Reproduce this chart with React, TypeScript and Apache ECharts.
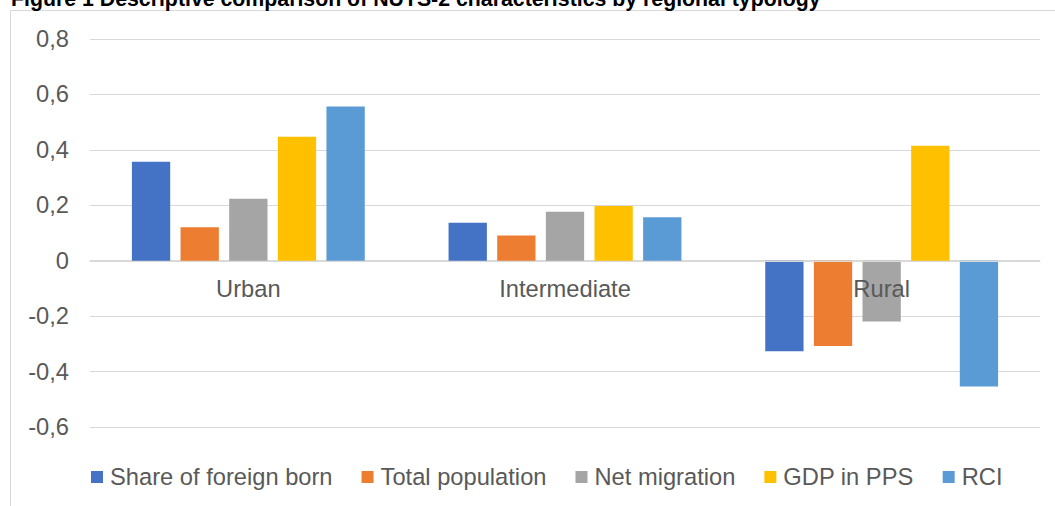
import React, { useEffect, useRef } from "react";
import * as echarts from "echarts";

const categories = ["Urban", "Intermediate", "Rural"];
const seriesNames = ["Share of foreign born", "Total population", "Net migration", "GDP in PPS", "RCI"];
const shareForeignBorn = [0.357, 0.137, -0.327];
const totalPopulation = [0.121, 0.091, -0.308];
const netMigration = [0.224, 0.177, -0.219];
const gdpInPPS = [0.447, 0.197, 0.415];
const rci = [0.556, 0.157, -0.454];
const colors = ["#4472C4", "#ED7D31", "#A5A5A5", "#FFC000", "#5B9BD5"];
const titleText = "Figure 1 Descriptive comparison of NUTS-2 characteristics by regional typology";

const FONT = "'Liberation Sans', Arial, sans-serif";
const FS = 23.7;

export default function App() {
  const ref = useRef<HTMLDivElement>(null);
  useEffect(() => {
    if (!ref.current) return;
    const chart = echarts.init(ref.current, null, { renderer: "svg" });
    const values = [shareForeignBorn, totalPopulation, netMigration, gdpInPPS, rci];
    chart.setOption({
      animation: false,
      backgroundColor: "#ffffff",
      textStyle: { fontFamily: FONT },
      graphic: [
        {
          type: "rect",
          shape: { x: 10.5, y: 10.5, width: 1100, height: 600 },
          style: { fill: "none", stroke: "#d9d9d9", lineWidth: 1 },
          silent: true,
        },
        {
          type: "text",
          x: 11,
          y: -1,
          style: {
            text: titleText,
            fontFamily: FONT,
            fontSize: 21.3,
            fontWeight: "bold",
            fill: "#000000",
            verticalAlign: "middle",
            align: "left",
          },
          silent: true,
        },
      ],
      grid: { left: 90, right: 15, top: 39, bottom: 79, containLabel: false },
      legend: {
        data: seriesNames,
        left: 91,
        top: 465,
        padding: 0,
        itemWidth: 12,
        itemHeight: 12,
        itemGap: 29,
        icon: "rect",
        textStyle: { fontFamily: FONT, fontSize: FS, color: "#595959", padding: [0, 0, 0, 2] },
      },
      xAxis: {
        type: "category",
        data: categories,
        z: 5,
        position: "bottom",
        offset: -166,
        axisLine: { onZero: false, lineStyle: { color: "#d9d9d9", width: 1 } },
        axisTick: { show: false },
        axisLabel: { fontFamily: FONT, fontSize: FS, color: "#595959", margin: 16 },
        splitLine: { show: false },
      },
      yAxis: {
        type: "value",
        min: -0.6,
        max: 0.8,
        interval: 0.2,
        axisLine: { show: false },
        axisTick: { show: false },
        splitLine: { lineStyle: { color: "#d9d9d9", width: 1 } },
        axisLabel: {
          fontFamily: FONT,
          fontSize: FS,
          color: "#595959",
          margin: 21,
          formatter: (v: number) => {
            const r = Math.round(v * 10) / 10;
            return r === 0 ? "0" : String(r).replace(".", ",");
          },
        },
      },
      series: seriesNames.map((name, i) => ({
        name,
        type: "bar",
        data: values[i],
        barWidth: 38.3,
        barGap: "27%",
        itemStyle: { color: colors[i] },
      })),
    });
    return () => chart.dispose();
  }, []);
  return (
    <div
      ref={ref}
      style={{ position: "fixed", left: 0, top: 0, width: 1055, height: 506 }}
    />
  );
}
